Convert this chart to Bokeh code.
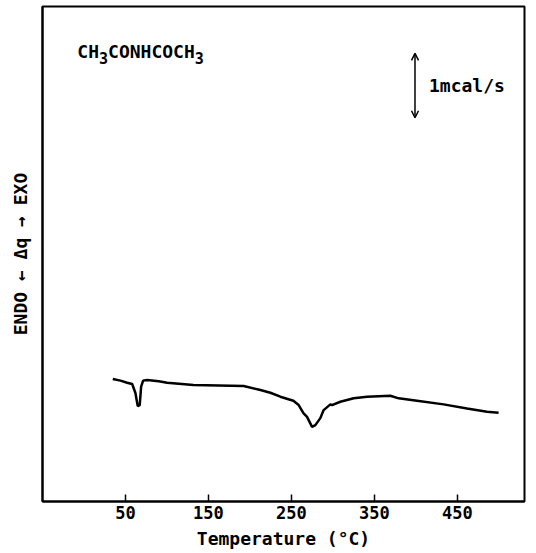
from bokeh.plotting import figure
from bokeh.models import Range1d, FixedTicker, Arrow, OpenHead, ColumnDataSource
from bokeh.core.properties import value
from bokeh.embed import file_html
from bokeh.resources import INLINE

# DSC trace: temperature (°C) vs heat flow (mcal/s, arbitrary baseline)
temperature = [34.7, 44.0, 52.0, 58.1, 62.0, 64.8, 67.2, 68.9, 71.3, 76.1, 90.1, 100.2,
               131.9, 192.5, 212.7, 224.7, 236.7, 252.4, 258.8, 264.5, 268.9, 274.9,
               278.9, 284.9, 288.9, 297.0, 299.0, 309.0, 325.1, 341.2, 369.3, 379.3,
               401.4, 433.5, 461.7, 485.8, 499.8]
heat_flow = [1.906, 1.880, 1.848, 1.828, 1.688, 1.484, 1.500, 1.786, 1.880, 1.891, 1.870, 1.848,
             1.813, 1.797, 1.734, 1.692, 1.630, 1.567, 1.500, 1.375, 1.317, 1.161,
             1.188, 1.297, 1.422, 1.511, 1.500, 1.552, 1.605, 1.630, 1.645, 1.605,
             1.567, 1.511, 1.448, 1.395, 1.380]
x_ticks = [50, 150, 250, 350, 450]

# annotation values
compound_parts = ["CH", "3", "CONHCOCH", "3"]
compound_x, compound_y = -8, 7.0
scale_x, scale_y0, scale_y1 = 399, 5.97, 6.97
scale_label = "1mcal/s"

FONT = "DejaVu Sans Mono"

p = figure(width=536, height=553, output_backend="svg", toolbar_location=None,
           x_range=Range1d(-50, 531), y_range=Range1d(0, 7.7),
           min_border_left=42, min_border_right=12, min_border_top=6, min_border_bottom=52)
p.background_fill_color = "white"
p.border_fill_color = "white"
p.outline_line_color = "black"
p.outline_line_width = 2
p.xgrid.visible = False
p.ygrid.visible = False

p.xaxis.ticker = FixedTicker(ticks=x_ticks)
p.xaxis.major_tick_in = 7
p.xaxis.major_tick_out = 0
p.xaxis.minor_tick_line_color = None
p.xaxis.major_tick_line_color = "black"
p.xaxis.major_tick_line_width = 1.5
p.xaxis.axis_line_color = "black"
p.xaxis.axis_line_width = 2
p.xaxis.major_label_text_font = FONT
p.xaxis.major_label_text_font_style = "bold"
p.xaxis.major_label_text_font_size = "17px"
p.xaxis.major_label_text_color = "black"
p.xaxis.major_label_standoff = 4
p.xaxis.axis_label = "Temperature (°C)"
p.xaxis.axis_label_text_font = FONT
p.xaxis.axis_label_text_font_style = "bold"
p.xaxis.axis_label_text_font_size = "18px"
p.xaxis.axis_label_text_color = "black"
p.xaxis.axis_label_standoff = 6

p.yaxis.ticker = FixedTicker(ticks=[])
p.yaxis.major_tick_line_color = None
p.yaxis.minor_tick_line_color = None
p.yaxis.axis_line_color = "black"
p.yaxis.axis_line_width = 2
p.yaxis.axis_label = "ENDO ← Δq → EXO"
p.yaxis.axis_label_text_font = FONT
p.yaxis.axis_label_text_font_style = "bold"
p.yaxis.axis_label_text_font_size = "18px"
p.yaxis.axis_label_text_color = "black"
p.yaxis.axis_label_standoff = 12

src = ColumnDataSource(dict(x=temperature, y=heat_flow))
p.line("x", "y", source=src, line_color="black", line_width=2.5)

# compound formula with subscripts
main_size, sub_size = 18, 15
w_main, w_sub = 0.602 * main_size, 0.602 * sub_size
offset = 0.0
for part in compound_parts:
    is_sub = part.isdigit()
    p.text(x=[compound_x], y=[compound_y], text=[part], x_offset=offset,
           y_offset=6 if is_sub else 0,
           text_font=value(FONT), text_font_style="bold",
           text_font_size=f"{sub_size if is_sub else main_size}px",
           text_color="black", text_align="left", text_baseline="alphabetic")
    offset += len(part) * (w_sub if is_sub else w_main)

# scale bar
p.add_layout(Arrow(x_start=scale_x, y_start=scale_y0, x_end=scale_x, y_end=scale_y1,
                   start=OpenHead(size=7, line_width=1.5, line_color="black"),
                   end=OpenHead(size=7, line_width=1.5, line_color="black"),
                   line_width=1.5, line_color="black"))
p.text(x=[scale_x], y=[(scale_y0 + scale_y1) / 2], text=[scale_label], x_offset=14,
       text_font=value(FONT), text_font_style="bold", text_font_size="18px",
       text_color="black", text_align="left", text_baseline="middle")

open("out.html", "w").write(file_html(p, INLINE))
